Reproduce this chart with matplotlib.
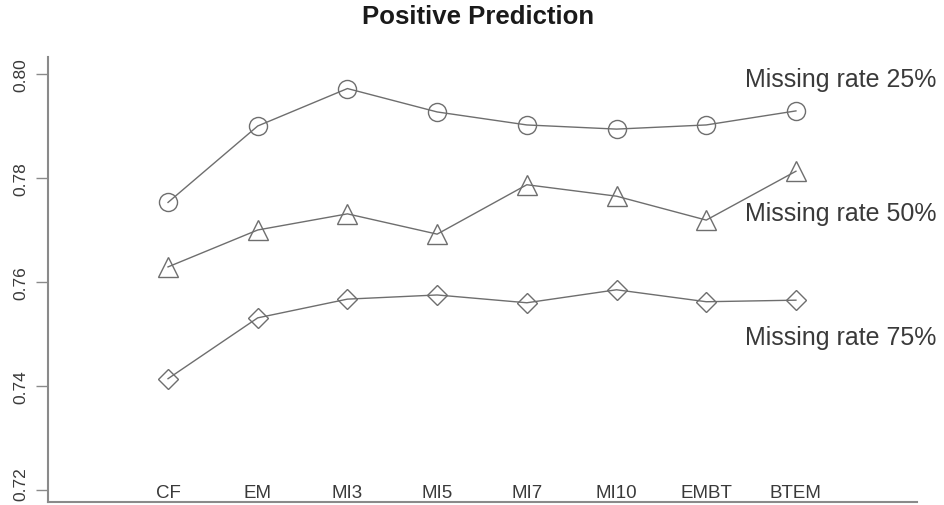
import matplotlib
matplotlib.use("Agg")
import matplotlib.pyplot as plt
from matplotlib.transforms import ScaledTranslation
import numpy as np

methods = ["CF", "EM", "MI3", "MI5", "MI7", "MI10", "EMBT", "BTEM"]
rate25 = [0.7753, 0.7900, 0.7972, 0.7927, 0.7902, 0.7894, 0.7902, 0.7929]
rate50 = [0.7629, 0.7700, 0.7731, 0.7692, 0.7787, 0.7765, 0.7719, 0.7813]
rate75 = [0.7414, 0.7531, 0.7567, 0.7575, 0.7560, 0.7585, 0.7562, 0.7565]
series_labels = ["Missing rate 25%", "Missing rate 50%", "Missing rate 75%"]
yticks = [0.72, 0.74, 0.76, 0.78, 0.80]

plt.rcParams["font.family"] = ["Liberation Sans", "DejaVu Sans"]
LC = "#6e6e6e"
TC = "#3a3a3a"

fig = plt.figure(figsize=(9.45, 5.06), dpi=100)
ax = fig.add_axes([0.0508, 0.006, 0.9196, 0.8794])
x = np.arange(len(methods))

for vals, mk, ms in [(rate25, "o", 13), (rate50, "^", 14), (rate75, "D", 10)]:
    ax.plot(x, vals, color=LC, lw=1.0, marker=mk, ms=ms, mfc="none",
            mec=LC, mew=1.0)

# series labels, placed right of the last point
for lab, yv in zip(series_labels, [0.7990, 0.7733, 0.7494]):
    ax.text(6.43, yv, lab, fontsize=18, color=TC, ha="left", va="center",
            clip_on=False)

# method names along the bottom
for xi, m in zip(x, methods):
    ax.text(xi, 0.7196, m, fontsize=13.5, color=TC, ha="center", va="center")

ax.set_xlim(-1.338, 8.35)
ax.set_ylim(0.71769, 0.80327)
ax.set_xticks([])
ax.set_yticks(yticks)
ax.set_yticklabels([f"{t:.2f}" for t in yticks], rotation=90, va="center",
                   fontsize=12.5, color=TC)
ax.tick_params(axis="y", length=9, width=1.0, color="#8a8a8a", pad=5)
# nudge the lowest label up so it stays inside the figure
lo = ax.get_yticklabels()[0]
lo.set_transform(lo.get_transform() + ScaledTranslation(0, 5/72, fig.dpi_scale_trans))
for s in ["top", "right"]:
    ax.spines[s].set_visible(False)
for s in ["left", "bottom"]:
    ax.spines[s].set_color("#8a8a8a")
    ax.spines[s].set_linewidth(1.5)

fig.text(0.506, 0.966, "Positive Prediction", fontsize=18.5, fontweight="bold",
         color="#1a1a1a", ha="center", va="center")

fig.savefig("out.png", dpi=100)
